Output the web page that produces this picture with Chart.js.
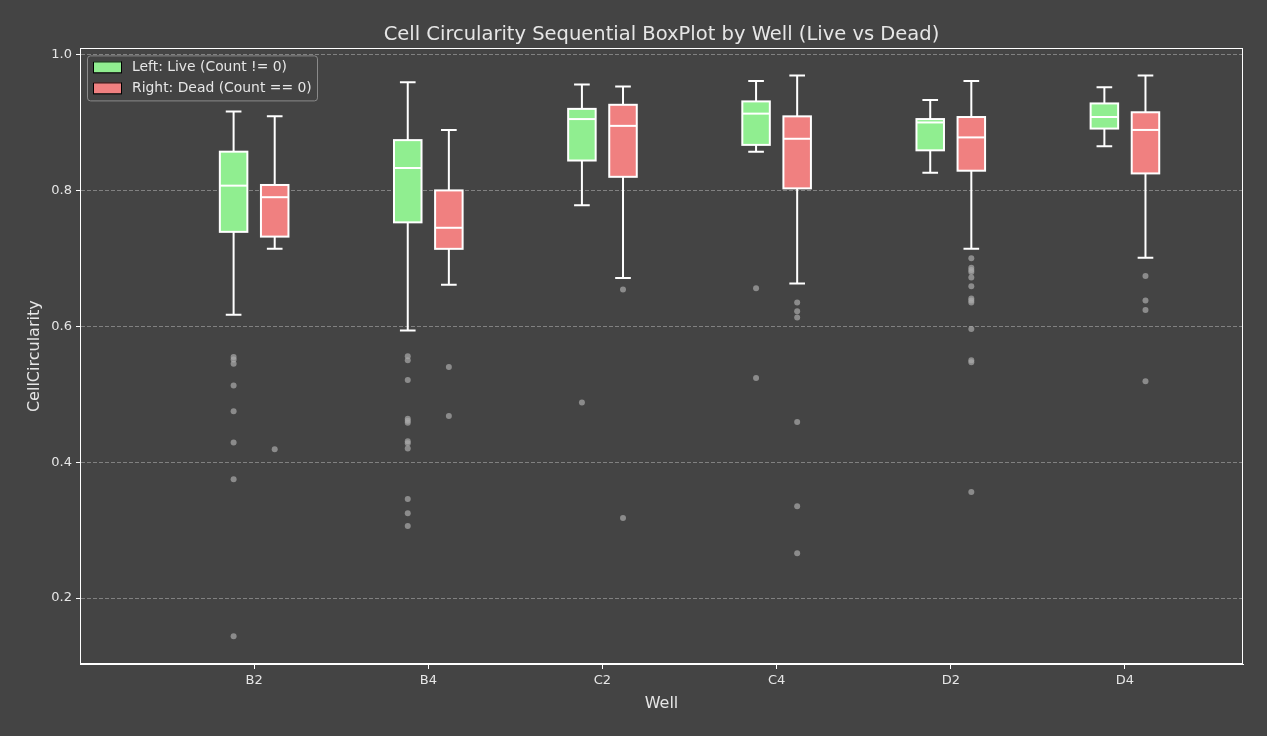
<!DOCTYPE html>
<html>
<head>
<meta charset="utf-8">
<script src="https://cdn.jsdelivr.net/npm/chart.js@4.4.1/dist/chart.umd.min.js"></script>
<style>
  html, body { margin: 0; padding: 0; background: #444444; }
  #wrap { width: 1267px; height: 736px; }
</style>
</head>
<body>
<div id="wrap"><canvas id="chart" width="1267" height="736"></canvas></div>
<script>
// values
const wells = ["B2", "B4", "C2", "C4", "D2", "D4"];
const yTicks = [0.2, 0.4, 0.6, 0.8, 1.0];

const liveLow    = [0.617, 0.594, 0.778, 0.857, 0.826, 0.865];
const liveQ1     = [0.739, 0.753, 0.844, 0.867, 0.859, 0.891];
const liveMedian = [0.807, 0.833, 0.905, 0.913, 0.900, 0.908];
const liveQ3     = [0.857, 0.874, 0.920, 0.931, 0.905, 0.928];
const liveHigh   = [0.916, 0.959, 0.956, 0.961, 0.933, 0.952];

const deadLow    = [0.714, 0.661, 0.671, 0.663, 0.714, 0.701];
const deadQ1     = [0.732, 0.714, 0.820, 0.803, 0.829, 0.825];
const deadMedian = [0.790, 0.745, 0.895, 0.876, 0.878, 0.889];
const deadQ3     = [0.808, 0.800, 0.926, 0.909, 0.908, 0.915];
const deadHigh   = [0.909, 0.889, 0.953, 0.969, 0.961, 0.969];

const liveOutliers = [
  [0.555, 0.551, 0.545, 0.513, 0.475, 0.429, 0.375, 0.144],
  [0.556, 0.550, 0.521, 0.464, 0.461, 0.458, 0.431, 0.428, 0.420, 0.346, 0.325, 0.306],
  [0.488],
  [0.656, 0.524],
  [],
  []
];
const deadOutliers = [
  [0.419],
  [0.540, 0.468],
  [0.654, 0.318],
  [0.635, 0.622, 0.613, 0.459, 0.335, 0.266],
  [0.700, 0.686, 0.683, 0.680, 0.672, 0.659, 0.641, 0.638, 0.635, 0.596, 0.550, 0.547, 0.356],
  [0.674, 0.638, 0.624, 0.519]
];

const legendLabels = ["Left: Live (Count != 0)", "Right: Dead (Count == 0)"];

// drawing constants
const LIVE_COLOR = "#90ee90";
const DEAD_COLOR = "#f08080";
const SHIFT = 0.118;
const BOX_W = 0.158;
const CAP_W = 0.09;
const TEXT = "#e6e6e6";

const groups = [
  { shift: -SHIFT, color: LIVE_COLOR, lo: liveLow, q1: liveQ1, med: liveMedian, q3: liveQ3, hi: liveHigh },
  { shift: SHIFT, color: DEAD_COLOR, lo: deadLow, q1: deadQ1, med: deadMedian, q3: deadQ3, hi: deadHigh }
];

function outlierPoints(list, shift) {
  const pts = [];
  list.forEach((vals, i) => vals.forEach(v => pts.push({ x: i + 1 + shift, y: v })));
  return pts;
}

const boxPlugin = {
  id: "boxes",
  beforeDraw(chart) {
    const ctx = chart.ctx;
    ctx.save();
    ctx.fillStyle = "#444444";
    ctx.fillRect(0, 0, chart.width, chart.height);
    ctx.restore();
  },
  afterDatasetsDraw(chart) {
    const { ctx, chartArea: a, scales: { x, y } } = chart;
    ctx.save();
    ctx.lineWidth = 2;
    ctx.strokeStyle = "#ffffff";
    groups.forEach(g => {
      wells.forEach((w, i) => {
        const pos = i + 1 + g.shift;
        const cx = x.getPixelForValue(pos);
        const l = x.getPixelForValue(pos - BOX_W / 2);
        const r = x.getPixelForValue(pos + BOX_W / 2);
        const cl = x.getPixelForValue(pos - CAP_W / 2);
        const cr = x.getPixelForValue(pos + CAP_W / 2);
        const yLo = y.getPixelForValue(g.lo[i]);
        const yQ1 = y.getPixelForValue(g.q1[i]);
        const yMed = y.getPixelForValue(g.med[i]);
        const yQ3 = y.getPixelForValue(g.q3[i]);
        const yHi = y.getPixelForValue(g.hi[i]);

        ctx.beginPath();
        ctx.moveTo(cx, yQ1); ctx.lineTo(cx, yLo);
        ctx.moveTo(cl, yLo); ctx.lineTo(cr, yLo);
        ctx.moveTo(cx, yQ3); ctx.lineTo(cx, yHi);
        ctx.moveTo(cl, yHi); ctx.lineTo(cr, yHi);
        ctx.stroke();

        ctx.fillStyle = g.color;
        ctx.fillRect(l, yQ3, r - l, yQ1 - yQ3);
        ctx.strokeRect(l, yQ3, r - l, yQ1 - yQ3);

        ctx.beginPath();
        ctx.moveTo(l, yMed); ctx.lineTo(r, yMed);
        ctx.stroke();
      });
    });

    // frame
    ctx.lineWidth = 1;
    ctx.strokeRect(Math.round(a.left) + 0.5, Math.round(a.top) + 0.5,
                   Math.round(a.right - a.left) - 1, Math.round(a.bottom - a.top) - 1);

    // legend, upper left inside the axes
    const lx = a.left + 7, ly = a.top + 7;
    ctx.beginPath();
    ctx.roundRect(lx + 0.5, ly + 0.5, 230, 45, 3);
    ctx.fillStyle = "rgba(68,68,68,0.8)";
    ctx.fill();
    ctx.strokeStyle = "#8a8a8a";
    ctx.stroke();
    ctx.font = "13.9px 'DejaVu Sans'";
    ctx.textBaseline = "middle";
    [LIVE_COLOR, DEAD_COLOR].forEach((c, k) => {
      const sy = ly + 6 + k * 21;
      ctx.fillStyle = c;
      ctx.fillRect(lx + 6, sy, 28, 11);
      ctx.strokeStyle = "#000000";
      ctx.strokeRect(lx + 6.5, sy + 0.5, 28, 11);
      ctx.fillStyle = TEXT;
      ctx.fillText(legendLabels[k], lx + 45, sy + 6);
    });
    ctx.restore();
  }
};

Chart.defaults.font.family = "'DejaVu Sans', sans-serif";
Chart.defaults.color = TEXT;

new Chart(document.getElementById("chart"), {
  type: "scatter",
  data: {
    datasets: [
      { label: "live outliers", data: outlierPoints(liveOutliers, -SHIFT) },
      { label: "dead outliers", data: outlierPoints(deadOutliers, SHIFT) }
    ]
  },
  options: {
    responsive: false,
    animation: false,
    layout: { padding: { left: 0, right: 24, top: 0, bottom: 0 } },
    elements: {
      point: { radius: 3, backgroundColor: "rgba(170,170,170,0.7)", borderWidth: 0 }
    },
    plugins: {
      legend: { display: false },
      tooltip: { enabled: false },
      title: {
        display: true,
        fullSize: false,
        text: "Cell Circularity Sequential BoxPlot by Well (Live vs Dead)",
        color: TEXT,
        font: { size: 19.5, weight: "normal" },
        padding: { top: 23, bottom: 2 }
      }
    },
    scales: {
      x: {
        type: "linear",
        min: 0,
        max: 6.678,
        afterBuildTicks: s => { s.ticks = wells.map((w, i) => ({ value: i + 1 })); },
        afterFit: s => { s.height = 72; },
        ticks: {
          callback: v => wells[v - 1] || "",
          font: { size: 13 },
          color: TEXT,
          padding: 4,
          maxRotation: 0
        },
        grid: { drawOnChartArea: false, drawTicks: true, tickLength: 5, tickColor: "#ffffff" },
        border: { display: true, color: "#ffffff", width: 1 },
        title: { display: true, text: "Well", font: { size: 16 }, color: TEXT, padding: { top: 0, bottom: 23 } }
      },
      y: {
        min: 0.103,
        max: 1.009,
        afterBuildTicks: s => { s.ticks = yTicks.map(v => ({ value: v })); },
        afterFit: s => { s.width = 80; },
        ticks: {
          callback: v => v.toFixed(1),
          font: { size: 13 },
          color: TEXT,
          padding: 4
        },
        grid: { color: "rgba(190,190,190,0.5)", lineWidth: 1, drawTicks: true, tickLength: 4, tickColor: "#ffffff" },
        border: { display: true, color: "#ffffff", width: 1, dash: [4, 2] },
        title: { display: true, text: "CellCircularity", font: { size: 16 }, color: TEXT, padding: { top: 25, bottom: 0 } }
      }
    }
  },
  plugins: [boxPlugin]
});
</script>
</body>
</html>
